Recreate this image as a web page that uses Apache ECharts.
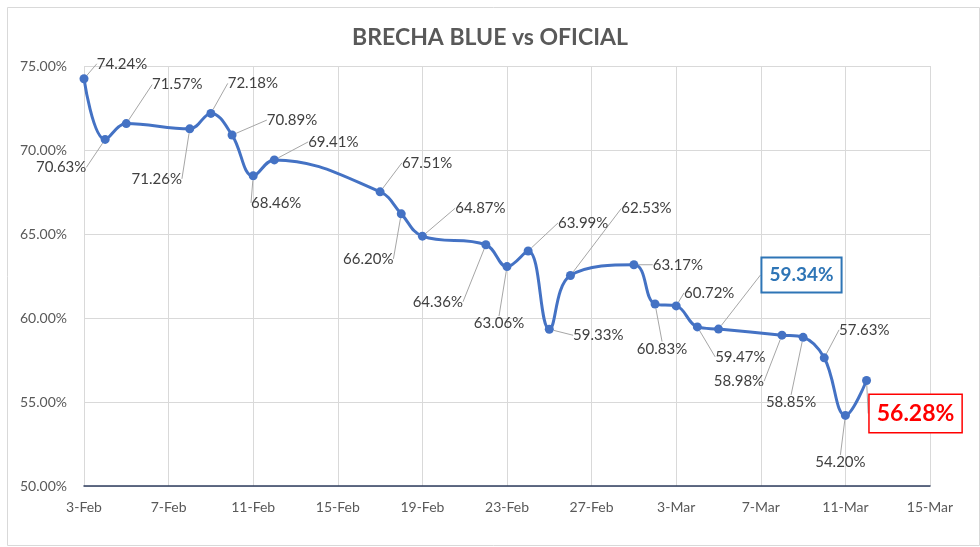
<!DOCTYPE html>
<html>
<head>
<meta charset="utf-8">
<script src="https://cdn.jsdelivr.net/npm/echarts@6/dist/echarts.min.js"></script>
<style>
html,body{margin:0;padding:0;background:#fff;}
#chart{width:980px;height:547px;}
</style>
</head>
<body>
<div id="chart"></div>
<script>
// ---- data ----
const dates = ['2021-02-03','2021-02-04','2021-02-05','2021-02-08','2021-02-09','2021-02-10','2021-02-11','2021-02-12',
  '2021-02-17','2021-02-18','2021-02-19','2021-02-22','2021-02-23','2021-02-24','2021-02-25','2021-02-26',
  '2021-03-01','2021-03-02','2021-03-03','2021-03-04','2021-03-05','2021-03-08','2021-03-09','2021-03-10','2021-03-11','2021-03-12'];
const brecha = [74.24,70.63,71.57,71.26,72.18,70.89,68.46,69.41,67.51,66.20,64.87,64.36,63.06,63.99,59.33,62.53,
  63.17,60.83,60.72,59.47,59.34,58.98,58.85,57.63,54.20,56.28];
const startDate = '2021-02-03';
const endDate = '2021-03-15';
const monthNames = ['Jan','Feb','Mar','Apr','May','Jun','Jul','Aug','Sep','Oct','Nov','Dec'];
const titleText = 'BRECHA BLUE vs OFICIAL';

// label offsets (label centre relative to point), in px
const labelOffsets = [[38,-15],[-44,28],[51,-39],[-33,50],[42,-30],[60,-15],[23,27],[59,-18],[47,-29],[-33,45],
  [58,-28],[-48,57],[-8,57],[55,-28],[49,6],[76,-67],[44,0],[7,45],[33,-13],[43,30],[83,-54],[-43,46],[-12,65],
  [40,-28],[-5,47],[49,33]];

const DAY = 86400000;
const t0 = Date.parse(startDate + 'T00:00:00Z');
const dayOf = s => Math.round((Date.parse(s + 'T00:00:00Z') - t0) / DAY);
const maxDay = dayOf(endDate);
const fmtDay = d => { const dt = new Date(t0 + d * DAY); return dt.getUTCDate() + '-' + monthNames[dt.getUTCMonth()]; };

const FONT = 'Lato';
const highlight = {
  20: {color:'#2E75B6', fontSize:19, fontWeight:'bold', borderColor:'#2E75B6', borderWidth:2, padding:[8,7,6,7], backgroundColor:'#fff'},
  25: {color:'#FF0000', fontSize:23, fontWeight:'bold', borderColor:'#FF0000', borderWidth:1.5, padding:[8,7,6,7], backgroundColor:'#fff'}
};
const seriesData = dates.map((d, i) => {
  const item = { value: [dayOf(d), brecha[i]] };
  if (highlight[i]) item.label = highlight[i];
  return item;
});

const chart = echarts.init(document.getElementById('chart'), null, {renderer:'canvas'});
chart.setOption({
  backgroundColor: '#fff',
  animation: false,
  title: {
    text: titleText, left: 'center', top: 21,
    textStyle: { fontFamily: FONT, fontSize: 23, fontWeight: 'bold', color: '#595959' }
  },
  graphic: [{
    type: 'rect', left: 5, top: 5, shape: { width: 972, height: 538 },
    style: { fill: 'none', stroke: '#D9D9D9', lineWidth: 1 }, silent: true, z: -1
  }],
  grid: { left: 84, right: 50, top: 66, bottom: 61 },
  xAxis: {
    type: 'value', min: 0, max: maxDay, interval: 4,
    axisLine: { show: true, lineStyle: { color: '#2F3E5F', width: 1.5 } },
    axisTick: { show: false },
    splitLine: { show: true, lineStyle: { color: '#D9D9D9', width: 1 } },
    axisLabel: { formatter: v => fmtDay(v), color: '#595959', fontFamily: FONT, fontSize: 14, margin: 14 }
  },
  yAxis: {
    type: 'value', min: 50, max: 75, interval: 5,
    axisLine: { show: false }, axisTick: { show: false },
    splitLine: { show: true, lineStyle: { color: '#D9D9D9', width: 1 } },
    axisLabel: { formatter: v => v.toFixed(2) + '%', color: '#595959', fontFamily: FONT, fontSize: 14, margin: 17 }
  },
  series: [{
    type: 'line',
    data: seriesData,
    smooth: 0.4,
    symbol: 'circle', symbolSize: 9,
    lineStyle: { color: '#4472C4', width: 3 },
    itemStyle: { color: '#4472C4' },
    label: {
      show: true, position: 'inside',
      formatter: p => p.value[1].toFixed(2) + '%',
      color: '#404040', fontFamily: FONT, fontSize: 15
    },
    labelLine: { show: true, lineStyle: { color: '#A6A6A6', width: 1 } },
    labelLayout: p => ({ dx: labelOffsets[p.dataIndex][0], dy: labelOffsets[p.dataIndex][1] })
  }]
});
</script>
</body>
</html>
